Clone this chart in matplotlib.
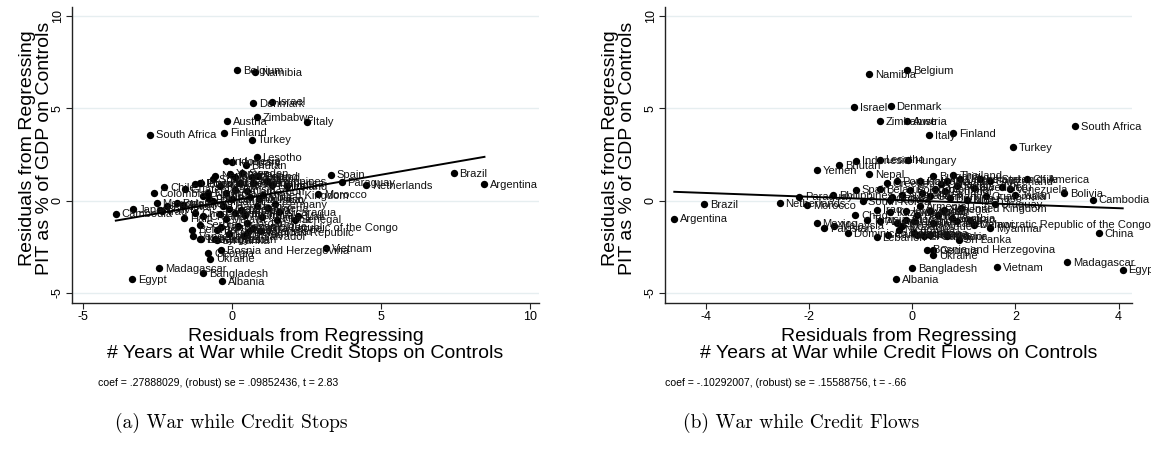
import matplotlib
matplotlib.use('Agg')
import matplotlib.pyplot as plt
import numpy as np

countries = [
    "Belgium", "Namibia", "Denmark", "Israel", "Austria", "Zimbabwe", "Italy", "South Africa",
    "Finland", "Turkey", "Lesotho", "Indonesia", "Hungary", "Bhutan", "Spain", "Paraguay",
    "Netherlands", "Morocco", "Chile", "Colombia", "Cambodia", "Japan", "Brazil", "Argentina",
    "Vietnam", "Madagascar", "Egypt", "Bangladesh", "Albania", "Bosnia and Herzegovina", "Ukraine", "Georgia",
    "Sri Lanka", "Lebanon", "Dominican Republic", "Democratic Republic of the Congo", "Senegal", "Mali", "Germany", "United States of America",
    "Yemen", "Nepal", "Thailand", "Peru", "Bolivia", "China", "Myanmar", "Ecuador",
    "Guatemala", "Philippines", "South Korea", "Kenya", "Mexico", "Pakistan", "Malaysia", "Chad",
    "Iraq", "Switzerland", "Ireland", "Greece", "Portugal", "Poland", "Romania", "Bulgaria",
    "Croatia", "Serbia", "Belarus", "Kazakhstan", "Kyrgyzstan", "Armenia", "Jordan", "Iran",
    "Tunisia", "Algeria", "Ethiopia", "Uganda", "Tanzania", "Zambia", "Malawi", "Mozambique",
    "Botswana", "Ghana", "Nigeria", "Cameroon", "Niger", "Burkina Faso", "Guinea", "Sierra Leone",
    "Nicaragua", "Honduras", "El Salvador", "Venezuela", "Uruguay", "India", "Sweden", "France",
    "United Kingdom", "Canada", "Australia", "Haiti",
]

# Panel (a): war while credit stops
stops_x = [
    0.19, 0.79, 0.71, 1.36, -0.15, 0.85, 2.53, -2.74,
    -0.26, 0.69, 0.84, -0.19, 0.02, 0.47, 3.33, 3.69,
    4.50, 2.90, -2.27, -2.61, -3.89, -3.31, 7.45, 8.48,
    3.16, -2.43, -3.34, -0.96, -0.32, -0.36, -0.72, -0.78,
    -0.51, -1.03, 0.56, -0.36, 2.12, 2.24, 1.46, -1.23,
    -0.06, -0.56, 0.68, 0.89, -2.41, 1.51, 0.95, -1.04,
    -1.57, 1.17, -0.62, -0.39, -2.52, -2.18, -1.62, -1.23,
    -2.35, 0.11, 1.85, 0.28, -1.06, -0.95, -0.62, -1.85,
    -0.95, -1.06, -1.32, -1.06, -0.56, 0.11, 0.50, 0.84,
    0.11, 0.73, 1.34, -0.30, 0.30, 0.60, -0.20, 0.20,
    -0.50, 1.00, 1.20, 0.50, -0.80, 0.00, -0.40, 0.70,
    1.60, -0.10, 0.40, -1.30, 0.90, -0.20, 0.35, -0.75,
    1.05, -0.10, 0.45, -1.60,
]
stops_y = [
    7.04, 6.97, 5.28, 5.35, 4.29, 4.50, 4.27, 3.57,
    3.68, 3.30, 2.36, 2.12, 2.07, 1.91, 1.41, 0.99,
    0.86, 0.34, 0.74, 0.42, -0.70, -0.45, 1.48, 0.90,
    -2.56, -3.66, -4.25, -3.91, -4.36, -2.70, -3.14, -2.83,
    -2.12, -2.09, -1.71, -1.42, -1.03, -0.85, -0.20, 0.92,
    1.46, 1.35, 1.25, 1.31, -0.49, -1.03, -1.66, 0.94,
    0.63, 1.04, 1.14, 0.77, -0.12, -0.31, -0.22, -0.67,
    -0.58, 1.30, 0.77, 0.96, 0.96, 0.23, -0.04, -0.12,
    -0.85, -1.30, -1.57, -2.10, -2.10, -0.67, -1.21, -0.31,
    0.59, 0.96, 0.86, -0.30, -0.50, 0.20, -1.00, -1.40,
    -1.60, -0.90, -0.40, 0.50, 0.40, 0.10, -0.70, -1.50,
    -0.60, -1.80, -1.90, -1.90, 0.10, 0.40, 1.50, 0.10,
    0.30, -0.45, -0.80, -0.95,
]

# Panel (b): war while credit flows
flows_x = [
    -0.10, -0.84, -0.42, -1.12, -0.10, -0.63, 0.33, 3.15,
    0.79, 1.95, -0.63, -1.09, -0.08, -1.42, -1.09, -2.19,
    -2.57, -2.03, 2.22, 0.45, 3.50, 2.00, -4.03, -4.61,
    1.65, 3.01, 4.08, 0.00, -0.31, 0.29, 0.40, 0.41,
    0.90, -0.69, -1.25, 1.20, 0.61, 0.86, 0.35, 0.93,
    -1.84, -0.83, 0.80, 1.75, 2.94, 3.62, 1.51, 0.64,
    1.43, -1.53, -0.96, -0.40, -1.85, -1.71, -1.51, -1.10,
    -0.68, 1.51, 1.32, -0.49, -0.30, -0.04, 0.15, 0.41,
    0.67, 0.86, -0.62, -0.43, -0.11, 0.15, 0.35, 1.12,
    -0.88, -0.62, -0.30, 0.03, 0.41, 0.78, 1.19, -0.20,
    0.03, 0.35, 0.67, -0.46, 1.06, 0.74, -0.43, -0.11,
    -0.26, 0.10, 0.22, 1.90, 1.60, 0.50, 1.20, 0.20,
    0.95, 0.55, -0.20, 0.10,
]
flows_y = [
    7.05, 6.83, 5.10, 5.06, 4.32, 4.31, 3.53, 4.02,
    3.66, 2.88, 2.22, 2.16, 2.18, 1.91, 0.59, 0.22,
    -0.13, -0.24, 1.14, 0.62, 0.05, 0.29, -0.18, -0.97,
    -3.60, -3.32, -3.73, -3.64, -4.23, -2.65, -2.97, -2.69,
    -2.11, -1.98, -1.75, -1.26, -0.49, -1.12, 0.23, 1.14,
    1.64, 1.44, 1.40, 0.74, 0.42, -1.78, -1.48, 0.50,
    0.23, 0.29, -0.05, 0.20, -1.24, -1.50, -1.35, -0.77,
    -0.49, 1.04, 1.14, 0.96, 1.04, 0.59, 1.04, 1.31,
    1.04, 0.77, 0.63, -0.63, -0.58, -0.31, -0.58, -1.03,
    -1.03, -1.12, -1.21, -1.12, -1.21, -0.95, -1.30, -1.40,
    -1.75, -1.84, -1.93, -1.84, 0.05, 0.14, 0.05, -1.03,
    -1.57, -1.88, -1.90, 0.60, -0.20, -0.80, 0.70, 0.40,
    -0.40, 0.90, 0.30, -0.80,
]

coef_stops = 0.27888029
coef_flows = -0.10292007
note_stops = "coef = .27888029, (robust) se = .09852436, t = 2.83"
note_flows = "coef = -.10292007, (robust) se = .15588756, t = -.66"
ylabel_text = "Residuals from Regressing\nPIT as % of GDP on Controls"
xlabel_stops = "Residuals from Regressing\n# Years at War while Credit Stops on Controls"
xlabel_flows = "Residuals from Regressing\n# Years at War while Credit Flows on Controls"
caption_stops = "(a) War while Credit Stops"
caption_flows = "(b) War while Credit Flows"
yticks = [-5, 0, 5, 10]
xticks_stops = [-5, 0, 5, 10]
xticks_flows = [-4, -2, 0, 2, 4]

plt.rcParams['font.family'] = ['Liberation Sans', 'DejaVu Sans']

W, H = 1151, 450
fig = plt.figure(figsize=(W / 100, H / 100), dpi=100)


def rect(x0, x1, y0, y1):
    return [x0 / W, 1 - y1 / H, (x1 - x0) / W, (y1 - y0) / H]


def panel(ax, xs, ys, coef, xlim, xticks):
    ax.set_xlim(*xlim)
    ax.set_ylim(-5.54, 10.47)
    for yv in yticks:
        ax.axhline(yv, color='#e6eef0', lw=1.0, zorder=0)
    ax.scatter(xs, ys, s=28, c='black', linewidths=0, zorder=2)
    for n, x, y in zip(countries, xs, ys):
        ax.annotate(n, (x, y), xytext=(4.2, -0.6), textcoords='offset points',
                    fontsize=8, va='center', ha='left', color='#111111',
                    annotation_clip=False, clip_on=False, zorder=2.5)
    xa = np.array([min(xs), max(xs)])
    ax.plot(xa, coef * xa, color='black', lw=1.4, zorder=3)
    for s in ['top', 'right']:
        ax.spines[s].set_visible(False)
    for s in ['left', 'bottom']:
        ax.spines[s].set_color('#222222')
        ax.spines[s].set_linewidth(1.0)
    ax.set_xticks(xticks)
    ax.set_xticklabels([str(t) for t in xticks])
    ax.set_yticks(yticks)
    ax.set_yticklabels([str(t) for t in yticks], rotation=90, va='center')
    ax.tick_params(direction='out', length=4, width=0.8, colors='#222222',
                   labelsize=9, labelcolor='black', pad=2)
    ax.set_facecolor('white')


axL = fig.add_axes(rect(72, 539, 7, 303))
axR = fig.add_axes(rect(665, 1132, 7, 303))
panel(axL, stops_x, stops_y, coef_stops, (-5.36, 10.31), xticks_stops)
panel(axR, flows_x, flows_y, coef_flows, (-4.79, 4.26), xticks_flows)

lab_fs = 14
for ax0, xlab, ylx in [(72, xlabel_stops, 36), (665, xlabel_flows, 619)]:
    cx = ax0 + 233.5
    fig.text(cx / W, 1 - 345 / H, xlab, ha='center', va='center', fontsize=lab_fs,
             linespacing=0.95)
    fig.text(ylx / W, 1 - 148 / H, ylabel_text, ha='center', va='center', rotation=90,
             fontsize=lab_fs, linespacing=0.95)

fig.text(98 / W, 1 - 383 / H, note_stops, ha='left', va='center', fontsize=7.6)
fig.text(665 / W, 1 - 383 / H, note_flows, ha='left', va='center', fontsize=7.6)
fig.text(231 / W, 1 - 423 / H, caption_stops, ha='center', va='center', fontsize=14,
         family='cmr10')
fig.text(801 / W, 1 - 423 / H, caption_flows, ha='center', va='center', fontsize=14,
         family='cmr10')

fig.savefig('out.png', dpi=100, facecolor='white')
